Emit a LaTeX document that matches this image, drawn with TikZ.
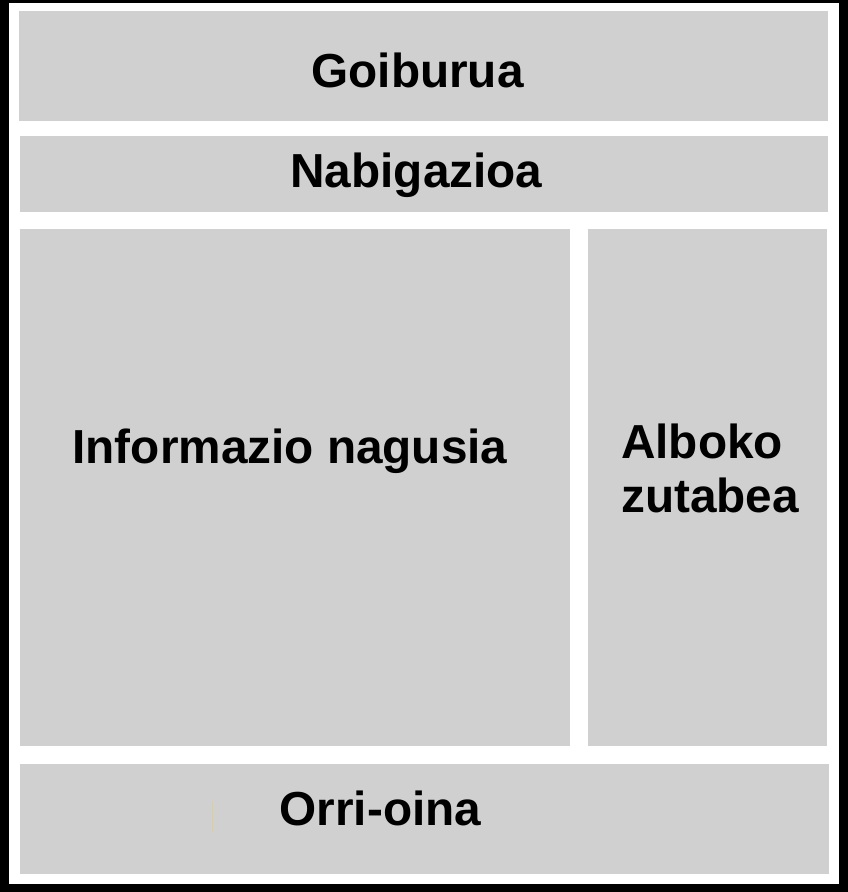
\documentclass[tikz,border=0pt]{standalone}
\usepackage{fontspec}
\setmainfont{Liberation Sans}
\usepackage{tikz}
\usetikzlibrary{positioning}
\usepackage{xcolor}
\definecolor{boxgray}{RGB}{208,208,208}
\definecolor{cursortan}{RGB}{222,206,150}

\begin{document}
\begin{tikzpicture}[
  x=0.75pt, y=-0.75pt,
  every node/.style={font=\fontsize{35.8}{40.5}\selectfont\bfseries},
  region/.style={fill=boxgray, draw=none, anchor=north west, inner sep=0pt}
]
\useasboundingbox (0, 0) rectangle (848, 892);

% frame
\draw[line width=6.75pt] (4.5, -1.5) rectangle (843.5, 888);

% header
\node[region, minimum width=606.75pt, minimum height=82.5pt] (header) at (19, 11) {};
\node[anchor=base] (headerlbl) at (417.5, 88) {Goiburua};

% navigation
\node[region, minimum width=606pt, minimum height=57pt] (nav) at (20, 136) {};
\node[anchor=base] (navlbl) at (416.5, 187) {Nabigazioa};

% main content
\node[region, minimum width=412.5pt, minimum height=387.75pt] (main) at (20, 229) {};
\node[anchor=base] (mainlbl) at (290, 463) {Informazio nagusia};

% sidebar
\node[region, minimum width=179.25pt, minimum height=387.75pt] (side) at (588, 229) {};
\node[anchor=base west, align=left] (sidelbl) at (616.5, 512) {Alboko\\zutabea};

% footer
\node[region, minimum width=606.75pt, minimum height=82.5pt] (footer) at (20, 764) {};
\node[anchor=base] (footerlbl) at (380.5, 825) {Orri-oina};

% stray cursor mark
\draw[cursortan, line width=0.75pt] (212, 802) -- (212, 832);

\end{tikzpicture}
\end{document}
